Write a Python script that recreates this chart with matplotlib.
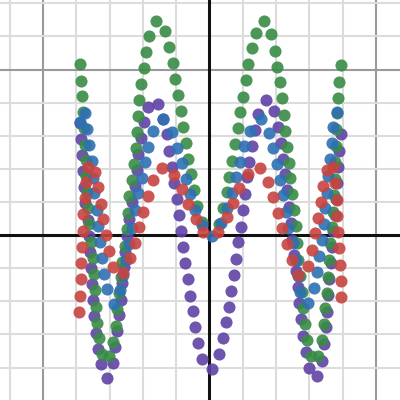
import numpy as np
import matplotlib
matplotlib.use("Agg")
import matplotlib.pyplot as plt

# ---- data (grid units) ----
green_x = [-3.89, -3.86, -3.83, -3.80, -3.77, -3.74, -3.71, -3.71, -3.68, -3.65, -3.62, -3.56,
           -3.50, -3.47, -3.44, -3.41, -3.38, -3.32, -3.23, -3.02, -2.90, -2.81, -2.78, -2.72,
           -2.66, -2.63, -2.54, -2.48, -2.45, -2.42, -2.33, -2.27, -2.21, -2.18, -2.15, -2.12,
           -2.06, -1.97, -1.91, -1.82, -1.61, -1.34, -1.22, -1.10, -1.04, -0.95, -0.86, -0.80,
           -0.71, -0.65, -0.56, -0.47, -0.38, -0.23, 0.29, 0.41, 0.53, 0.59, 0.68, 0.77, 0.86,
           0.92, 1.01, 1.10, 1.16, 1.28, 1.40, 1.64, 1.85, 1.97, 2.03, 2.12, 2.18, 2.24, 2.27,
           2.33, 2.39, 2.42, 2.48, 2.54, 2.60, 2.63, 2.66, 2.72, 2.78, 2.81, 2.87, 2.93, 3.05,
           3.26, 3.38, 3.44, 3.47, 3.53, 3.56, 3.59, 3.62, 3.68, 3.71, 3.74, 3.77, 3.77, 3.80,
           3.80, 3.83, 3.86, 3.89, 3.95]
green_y = [5.16, 4.65, 4.20, 3.71, 3.23, 2.72, 2.27, 1.78, 1.30, 0.82, 0.33, -0.21, -0.69,
           -1.18, -1.66, -2.17, -2.66, -3.11, -3.59, -3.65, -3.23, -2.75, -2.23, -1.75, -1.27,
           -0.82, -0.33, 0.18, 0.66, 1.18, 1.66, 2.14, 2.63, 3.11, 3.59, 4.08, 4.56, 5.04, 5.53,
           6.01, 6.46, 6.16, 5.68, 5.19, 4.71, 4.23, 3.74, 3.26, 2.78, 2.30, 1.84, 1.36, 0.88,
           0.39, 0.33, 0.82, 1.30, 1.75, 2.23, 2.75, 3.23, 3.71, 4.17, 4.68, 5.16, 5.65, 6.10,
           6.46, 6.07, 5.56, 5.07, 4.62, 4.14, 3.62, 3.14, 2.66, 2.17, 1.72, 1.24, 0.76, 0.27,
           -0.24, -0.76, -1.24, -1.72, -2.20, -2.69, -3.17, -3.65, -3.65, -3.17, -2.69, -2.20,
           -1.75, -1.27, -0.76, -0.24, 0.24, 0.69, 1.21, 1.69, 2.20, 2.69, 3.20, 3.68, 4.14,
           4.62, 5.13]

purple_x = [-3.89, -3.86, -3.83, -3.80, -3.77, -3.74, -3.65, -3.62, -3.59, -3.56, -3.53, -3.50,
            -3.47, -3.41, -3.35, -3.26, -3.08, -2.90, -2.84, -2.78, -2.72, -2.66, -2.63, -2.57,
            -2.54, -2.48, -2.42, -2.33, -2.24, -2.18, -2.15, -2.06, -1.97, -1.85, -1.55, -1.40,
            -1.28, -1.22, -1.13, -1.07, -0.98, -0.92, -0.86, -0.80, -0.74, -0.65, -0.59, -0.50,
            -0.44, -0.35, -0.23, 0.08, 0.29, 0.41, 0.50, 0.59, 0.65, 0.74, 0.80, 0.86, 0.95,
            1.01, 1.07, 1.13, 1.19, 1.28, 1.37, 1.46, 1.70, 1.94, 2.06, 2.15, 2.21, 2.27, 2.33,
            2.39, 2.45, 2.48, 2.54, 2.60, 2.66, 2.69, 2.75, 2.81, 2.90, 2.99, 3.23, 3.38, 3.44,
            3.50, 3.53, 3.56, 3.59, 3.65, 3.68, 3.71, 3.77, 3.80, 3.83, 3.86, 3.89, 3.95]
purple_y = [3.38, 2.90, 2.42, 1.93, 1.45, 0.97, 0.45, -0.03, -0.51, -1.00, -1.48, -1.96, -2.45,
            -2.96, -3.44, -3.90, -4.32, -3.87, -3.38, -2.90, -2.42, -1.96, -1.45, -0.97, -0.51,
            -0.03, 0.48, 1.00, 1.48, 1.96, 2.45, 2.93, 3.41, 3.87, 3.96, 3.50, 3.05, 2.54, 2.05,
            1.57, 1.09, 0.60, 0.12, -0.36, -0.85, -1.33, -1.84, -2.30, -2.78, -3.26, -3.74,
            -4.05, -3.59, -3.11, -2.63, -2.17, -1.69, -1.21, -0.72, -0.21, 0.24, 0.76, 1.24, 1.75,
            2.20, 2.69, 3.17, 3.65, 4.08, 3.74, 3.26, 2.78, 2.30, 1.84, 1.36, 0.85, 0.36, -0.15,
            -0.60, -1.09, -1.57, -2.05, -2.54, -3.05, -3.53, -4.02, -4.26, -3.81, -3.29, -2.78,
            -2.33, -1.81, -1.33, -0.85, -0.36, 0.12, 0.60, 1.09, 1.57, 2.05, 2.54, 3.05]

blue_x = [-3.74, -3.89, -3.68, -3.62, -3.53, -3.50, -3.47, -3.38, -3.35, -3.29, -3.23, -3.17,
          -3.08, -2.87, -2.69, -2.60, -2.51, -2.42, -2.33, -2.24, -2.15, -2.03, -1.94, -1.85,
          -1.70, -1.40, -1.13, -0.98, -0.83, -0.71, -0.59, -0.44, -0.23, 0.08, 0.35, 0.53, 0.68,
          0.80, 0.92, 1.04, 1.22, 1.55, 1.79, 1.91, 2.03, 2.12, 2.21, 2.30, 2.36, 2.51, 2.60,
          2.66, 2.72, 2.96, 3.14, 3.23, 3.29, 3.38, 3.44, 3.47, 3.53, 3.56, 3.62, 3.68, 3.71,
          3.83]
blue_y = [3.68, 3.41, 3.20, 2.72, 2.23, 1.72, 1.27, 0.76, 0.27, -0.21, -0.69, -1.18, -1.63,
          -2.08, -1.66, -1.21, -0.76, -0.27, 0.21, 0.76, 1.27, 1.72, 2.20, 2.66, 3.14, 3.50,
          3.11, 2.63, 2.17, 1.69, 1.24, 0.76, 0.30, -0.03, 0.36, 0.82, 1.27, 1.75, 2.20, 2.69,
          3.14, 3.50, 3.08, 2.63, 2.14, 1.66, 1.21, 0.69, 0.21, -0.24, -0.76, -1.24, -1.72,
          -2.05, -1.60, -1.12, -0.63, -0.15, 0.33, 0.82, 1.27, 1.78, 2.30, 2.78, 3.26, 3.71]

red_x = [-3.92, -3.89, -3.86, -3.86, -3.83, -3.80, -3.80, -3.74, -3.71, -3.65, -3.44, -3.35,
         -3.26, -3.20, -3.11, -3.02, -2.90, -2.60, -2.39, -2.24, -2.12, -2.00, -1.85, -1.70,
         -1.43, -1.07, -0.83, -0.65, -0.41, -0.20, 0.26, 0.53, 0.71, 0.89, 1.16, 1.52, 1.76,
         1.91, 2.06, 2.18, 2.33, 2.48, 2.66, 2.96, 3.08, 3.17, 3.26, 3.35, 3.41, 3.53, 3.71,
         3.77, 3.83, 3.83, 3.86, 3.89, 3.92, 3.95, 3.95]
red_y = [-2.33, -1.84, -1.33, -0.85, -0.36, 0.12, 0.63, 1.12, 1.60, 2.05, 1.90, 1.45, 0.94,
         0.48, 0.00, -0.48, -0.97, -1.15, -0.69, -0.24, 0.24, 0.69, 1.18, 1.66, 2.02, 1.81,
         1.39, 0.94, 0.48, 0.09, 0.09, 0.54, 0.97, 1.42, 1.84, 2.02, 1.60, 1.15, 0.66, 0.21,
         -0.27, -0.76, -1.21, -0.94, -0.45, 0.06, 0.51, 1.00, 1.48, 1.96, 2.05, 1.57, 1.06,
         0.57, 0.09, -0.39, -0.91, -1.39, -1.87]

series = [
    (purple_x, purple_y, "#6042a6"),
    (green_x, green_y, "#388c46"),
    (blue_x, blue_y, "#2d70b3"),
    (red_x, red_y, "#c74440"),
]

fig = plt.figure(figsize=(4, 4), dpi=100)
ax = fig.add_axes([0, 0, 1, 1])
ax.set_xlim(-6.29, 5.72)
ax.set_ylim(-4.98, 7.10)

# grid: minor every unit, major every 5
for gx in range(-6, 6):
    if gx == 0:
        continue
    c = "#9a9a9a" if gx % 5 == 0 else "#dcdcdc"
    ax.axvline(gx, color=c, lw=1.5, zorder=0)
for gy in range(-4, 8):
    if gy == 0:
        continue
    c = "#9a9a9a" if gy % 5 == 0 else "#dcdcdc"
    ax.axhline(gy, color=c, lw=1.5, zorder=0)
ax.axvline(0, color="#111111", lw=2.2, zorder=1)
ax.axhline(0, color="#111111", lw=2.2, zorder=1)

for i, (xs, ys, col) in enumerate(series):
    ax.scatter(xs, ys, s=76, color=col, alpha=0.9, linewidths=0, zorder=2 + i)

ax.axis("off")
fig.savefig("out.png", dpi=100)
